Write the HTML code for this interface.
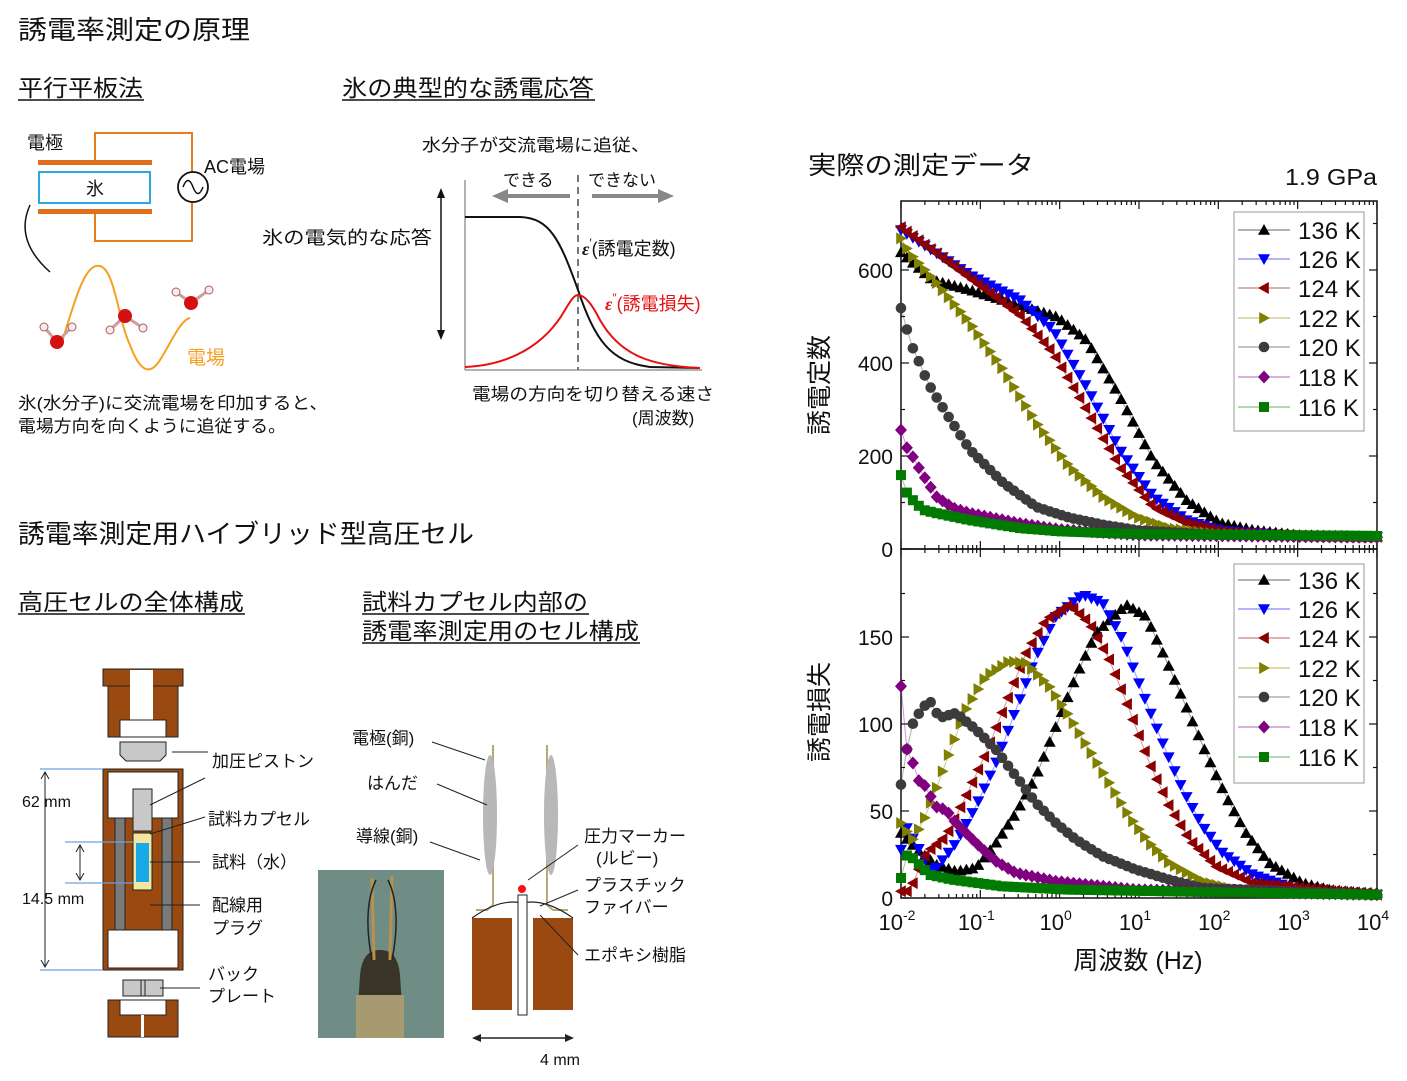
<!DOCTYPE html>
<html><head><meta charset="utf-8">
<style>
html,body{margin:0;padding:0;background:#fff;}
svg{display:block;}
text{font-family:"Liberation Sans","Noto Sans CJK JP",sans-serif;fill:#111;}
</style></head>
<body>
<svg id="s" width="1407" height="1081" viewBox="0 0 1407 1081" xmlns="http://www.w3.org/2000/svg">
<text x="18" y="39" font-size="26" textLength="232" lengthAdjust="spacingAndGlyphs">誘電率測定の原理</text>
<text x="18" y="96" font-size="23" textLength="125" lengthAdjust="spacingAndGlyphs">平行平板法</text>
<line x1="18" y1="100" x2="144" y2="100" stroke="#111" stroke-width="1.5"/>
<text x="342" y="96" font-size="23" textLength="252" lengthAdjust="spacingAndGlyphs">氷の典型的な誘電応答</text>
<line x1="342" y1="100" x2="595" y2="100" stroke="#111" stroke-width="1.5"/>

<text x="27" y="149" font-size="18">電極</text>
<polyline points="95,163 95,133 192,133 192,172" fill="none" stroke="#e87d1e" stroke-width="2"/>
<polyline points="192,202 192,241 95,241 95,211" fill="none" stroke="#e87d1e" stroke-width="2"/>
<rect x="38" y="160" width="114" height="5" fill="#e07020"/>
<rect x="38" y="209" width="114" height="5" fill="#e07020"/>
<rect x="39" y="172" width="111" height="31" fill="#fff" stroke="#29a8e0" stroke-width="2"/>
<text x="86" y="195" font-size="18">氷</text>
<circle cx="193" cy="187" r="15" fill="#fff" stroke="#111" stroke-width="1.8"/>
<path d="M183,187 Q188,174 193,187 T203,187" fill="none" stroke="#111" stroke-width="1.5"/>
<text x="204" y="173" font-size="18">AC電場</text>
<path d="M30,205 Q14,240 50,272" fill="none" stroke="#111" stroke-width="1.5"/>
<path d="M62,342 C75,300 85,262 100,266 C115,270 118,320 130,345 C140,372 150,376 160,360 C170,345 180,320 190,318" fill="none" stroke="#f5a020" stroke-width="2"/>
<g stroke="#c9a0a0" stroke-width="3">
<line x1="44" y1="327" x2="57" y2="342"/><line x1="72" y1="327" x2="57" y2="342"/>
<line x1="110" y1="330" x2="125" y2="316"/><line x1="143" y1="328" x2="125" y2="316"/>
<line x1="176" y1="292" x2="191" y2="303"/><line x1="209" y1="290" x2="191" y2="303"/>
</g>
<g>
<circle cx="44" cy="327" r="4" fill="#eee" stroke="#b55" stroke-width="1"/><circle cx="72" cy="327" r="4" fill="#eee" stroke="#b55" stroke-width="1"/>
<circle cx="57" cy="342" r="7" fill="#d51010"/>
<circle cx="110" cy="330" r="4" fill="#eee" stroke="#b55" stroke-width="1"/><circle cx="143" cy="328" r="4" fill="#eee" stroke="#b55" stroke-width="1"/>
<circle cx="125" cy="316" r="7" fill="#d51010"/>
<circle cx="176" cy="292" r="4" fill="#eee" stroke="#b55" stroke-width="1"/><circle cx="209" cy="290" r="4" fill="#eee" stroke="#b55" stroke-width="1"/>
<circle cx="191" cy="303" r="7" fill="#d51010"/>
</g>
<text x="187" y="364" font-size="19" style="fill:#f5a020">電場</text>
<text x="18" y="409" font-size="17" textLength="310" lengthAdjust="spacingAndGlyphs">氷(水分子)に交流電場を印加すると、</text>
<text x="18" y="432" font-size="17" textLength="268" lengthAdjust="spacingAndGlyphs">電場方向を向くように追従する。</text>

<text x="422" y="151" font-size="17" textLength="228" lengthAdjust="spacingAndGlyphs">水分子が交流電場に追従、</text>
<text x="503" y="186" font-size="17">できる</text>
<text x="588" y="186" font-size="17">できない</text>
<line x1="505" y1="196" x2="570" y2="196" stroke="#888" stroke-width="4"/>
<polygon points="492,196 508,189 508,203" fill="#888"/>
<line x1="592" y1="196" x2="660" y2="196" stroke="#888" stroke-width="4"/>
<polygon points="674,196 658,189 658,203" fill="#888"/>
<line x1="465" y1="180" x2="465" y2="370" stroke="#999" stroke-width="1.5"/>
<line x1="465" y1="370" x2="702" y2="370" stroke="#999" stroke-width="1.5"/>
<line x1="578" y1="175" x2="578" y2="370" stroke="#777" stroke-width="2" stroke-dasharray="7,5"/>
<path d="M465,217 L520,217 C550,218 560,240 578,290 C595,340 610,362 650,367 L700,368" fill="none" stroke="#111" stroke-width="2"/>
<path d="M465,367 C510,365 545,345 565,310 C572,298 575,295 578,295 C583,295 590,300 600,320 C620,355 650,366 700,368" fill="none" stroke="#e81010" stroke-width="2"/>
<line x1="441" y1="196" x2="441" y2="333" stroke="#111" stroke-width="1.5"/>
<polygon points="441,188 437,198 445,198" fill="#111"/>
<polygon points="441,340 437,330 445,330" fill="#111"/>
<text x="262" y="244" font-size="18" textLength="170" lengthAdjust="spacingAndGlyphs">氷の電気的な応答</text>
<text x="582" y="255" font-size="18"><tspan font-weight="bold" font-style="italic" font-family="Liberation Serif">ε</tspan><tspan dy="-8" font-size="12">′</tspan><tspan dy="8">(誘電定数)</tspan></text>
<text x="605" y="310" font-size="18" style="fill:#e81010"><tspan font-weight="bold" font-style="italic" font-family="Liberation Serif" style="fill:#e81010">ε</tspan><tspan dy="-8" font-size="12" style="fill:#e81010">″</tspan><tspan dy="8" style="fill:#e81010">(誘電損失)</tspan></text>
<text x="472" y="400" font-size="17" textLength="242" lengthAdjust="spacingAndGlyphs">電場の方向を切り替える速さ</text>
<text x="632" y="424" font-size="17">(周波数)</text>

<text x="18" y="543" font-size="26" textLength="456" lengthAdjust="spacingAndGlyphs">誘電率測定用ハイブリッド型高圧セル</text>
<text x="18" y="610" font-size="23" textLength="226" lengthAdjust="spacingAndGlyphs">高圧セルの全体構成</text>
<line x1="18" y1="614" x2="245" y2="614" stroke="#111" stroke-width="1.5"/>
<text x="362" y="610" font-size="23" textLength="226" lengthAdjust="spacingAndGlyphs">試料カプセル内部の</text>
<line x1="362" y1="614" x2="589" y2="614" stroke="#111" stroke-width="1.5"/>
<text x="362" y="639" font-size="23" textLength="277" lengthAdjust="spacingAndGlyphs">誘電率測定用のセル構成</text>
<line x1="362" y1="643" x2="640" y2="643" stroke="#111" stroke-width="1.5"/>

<g stroke="#222" stroke-width="1">
<rect x="103" y="669" width="80" height="17" fill="#9a4a10"/>
<rect x="108" y="686" width="70" height="51" fill="#9a4a10"/>
<rect x="130" y="670" width="23" height="50" fill="#fff" stroke="none"/>
<rect x="120" y="720" width="46" height="17" fill="#fff"/>
<path d="M120,742 H166 V755 L160,761 H126 L120,755 Z" fill="#c8c8c8"/>
<rect x="103" y="769" width="80" height="201" fill="#9a4a10"/>
<rect x="108" y="772" width="70" height="46" fill="#fff"/>
<rect x="115" y="818" width="57" height="112" fill="#7a7a7a"/>
<rect x="125" y="818" width="37" height="112" fill="#9a4a10"/>
<rect x="133" y="789" width="19" height="42" fill="#c8c8c8"/>
<rect x="133" y="833" width="19" height="57" fill="#f2e6a0"/>
<rect x="136" y="843" width="13" height="39" fill="#19a8e8" stroke="none"/>
<rect x="108" y="930" width="70" height="38" fill="#fff"/>
<rect x="123" y="980" width="40" height="16" fill="#c8c8c8"/>
<line x1="141" y1="980" x2="141" y2="996"/><line x1="145" y1="980" x2="145" y2="996"/>
<rect x="108" y="1000" width="70" height="37" fill="#9a4a10"/>
<rect x="120" y="1000" width="46" height="15" fill="#fff"/>
<rect x="141" y="1015" width="3" height="22" fill="#fff" stroke="none"/>
</g>
<g stroke="#6fa0d8" stroke-width="1.2">
<line x1="40" y1="769" x2="103" y2="769"/><line x1="40" y1="970" x2="103" y2="970"/>
<line x1="65" y1="842" x2="133" y2="842"/><line x1="65" y1="883" x2="133" y2="883"/>
</g>
<g stroke="#222" stroke-width="1" fill="none">
<line x1="45" y1="772" x2="45" y2="967"/><polyline points="41,779 45,772 49,779"/><polyline points="41,960 45,967 49,960"/>
<line x1="80" y1="845" x2="80" y2="880"/><polyline points="76,852 80,845 84,852"/><polyline points="76,873 80,880 84,873"/>
<line x1="172" y1="752" x2="208" y2="752"/>
<line x1="150" y1="805" x2="205" y2="778"/>
<line x1="150" y1="834" x2="205" y2="817"/>
<line x1="150" y1="862" x2="200" y2="862"/>
<line x1="150" y1="905" x2="200" y2="905"/>
<line x1="160" y1="988" x2="200" y2="988"/>
</g>
<text x="22" y="807" font-size="16">62 mm</text>
<text x="22" y="904" font-size="16">14.5 mm</text>
<text x="212" y="767" font-size="17">加圧ピストン</text>
<text x="208" y="825" font-size="17">試料カプセル</text>
<text x="212" y="868" font-size="17">試料（水）</text>
<text x="212" y="911" font-size="17">配線用</text>
<text x="212" y="934" font-size="17">プラグ</text>
<text x="208" y="980" font-size="17">バック</text>
<text x="208" y="1002" font-size="17">プレート</text>

<rect x="318" y="870" width="126" height="168" fill="#6f8d84"/>
<path d="M360,975 C362,955 370,950 380,950 C390,950 398,955 400,975 L404,1038 H356 Z" fill="#3a3528"/>
<path d="M356,995 H404 V1038 H356 Z" fill="#a89a70"/>
<path d="M372,878 L374,960 M392,876 L390,960" stroke="#b89050" stroke-width="3" fill="none"/>
<path d="M376,880 C366,900 366,930 372,960 M388,880 C398,900 398,930 392,960" stroke="#222" stroke-width="1.5" fill="none"/>

<g>
<path d="M493,745 V905 L487,910 H476" fill="none" stroke="#b8a878" stroke-width="2"/>
<path d="M547,745 V905 L553,910 H568" fill="none" stroke="#b8a878" stroke-width="2"/>
<ellipse cx="490" cy="815" rx="7" ry="60" fill="#b8b8b8"/>
<ellipse cx="551" cy="815" rx="7" ry="60" fill="#b8b8b8"/>
<rect x="472" y="918" width="40" height="92" fill="#9a4a10"/>
<rect x="533" y="918" width="40" height="92" fill="#9a4a10"/>
<path d="M472,918 Q500,898 522,903 Q545,898 573,918" fill="none" stroke="#222" stroke-width="1.2"/>
<rect x="518" y="895" width="9" height="120" fill="#fff" stroke="#222" stroke-width="1"/>
<circle cx="522" cy="889" r="4" fill="#ff1010"/>
</g>
<g stroke="#222" stroke-width="1">
<line x1="432" y1="742" x2="485" y2="760"/>
<line x1="437" y1="784" x2="487" y2="805"/>
<line x1="430" y1="842" x2="480" y2="860"/>
<line x1="578" y1="845" x2="528" y2="880"/>
<line x1="578" y1="890" x2="540" y2="906"/>
<line x1="578" y1="955" x2="540" y2="915"/>
<line x1="476" y1="1038" x2="570" y2="1038" stroke-width="1.5"/>
</g>
<polygon points="472,1038 481,1034 481,1042" fill="#222"/>
<polygon points="574,1038 565,1034 565,1042" fill="#222"/>
<text x="352" y="744" font-size="17">電極(銅)</text>
<text x="367" y="789" font-size="17">はんだ</text>
<text x="356" y="842" font-size="17">導線(銅)</text>
<text x="584" y="842" font-size="17">圧力マーカー</text>
<text x="596" y="864" font-size="17">(ルビー)</text>
<text x="584" y="891" font-size="17">プラスチック</text>
<text x="584" y="913" font-size="17">ファイバー</text>
<text x="584" y="961" font-size="17">エポキシ樹脂</text>
<text x="540" y="1065" font-size="16">4 mm</text>

<text x="808" y="174" font-size="25" textLength="226" lengthAdjust="spacingAndGlyphs">実際の測定データ</text>
<text x="1285" y="185" font-size="23" textLength="92" lengthAdjust="spacingAndGlyphs">1.9 GPa</text>
<text transform="translate(828,385) rotate(-90)" font-size="25" text-anchor="middle">誘電定数</text>
<text transform="translate(828,712) rotate(-90)" font-size="25" text-anchor="middle">誘電損失</text>
<text x="1138" y="969" font-size="25" text-anchor="middle">周波数 (Hz)</text>
<g id="chart"></g>
</svg>
<script>
(function(){
var g=document.getElementById('chart'),h='';
function X(l){return 901+(l+2)*79.33;}
function YT(v){return 549-v*93/200;}
function YB(v){return 898-v*261/150;}
function lgX(Xz){return -2+(Xz-95)/238;}
h+='<rect x="901" y="201" width="476" height="348" fill="none" stroke="#111" stroke-width="1.5"/>';
h+='<rect x="901" y="549" width="476" height="349" fill="none" stroke="#111" stroke-width="1.5"/>';
var edges=[[201,1],[549,-1],[549,1],[898,-1]];
for(var d=-2;d<=4;d++){
 for(var m=1;m<=9;m++){
  if(d==4&&m>1)break;
  var x=X(d+Math.log10(m)),L=m==1?8:4;
  edges.forEach(function(e){h+='<line x1="'+x+'" x2="'+x+'" y1="'+e[0]+'" y2="'+(e[0]+e[1]*L)+'" stroke="#111" stroke-width="1.2"/>';});
 }
}
function yt(y,L){h+='<line x1="901" x2="'+(901+L)+'" y1="'+y+'" y2="'+y+'" stroke="#111" stroke-width="1.2"/><line x1="1377" x2="'+(1377-L)+'" y1="'+y+'" y2="'+y+'" stroke="#111" stroke-width="1.2"/>';}
[0,200,400,600].forEach(function(v){yt(YT(v),8);h+='<text x="893" y="'+(YT(v)+8)+'" font-size="21" text-anchor="end">'+v+'</text>';});
[100,300,500,700].forEach(function(v){yt(YT(v),4);});
[0,50,100,150].forEach(function(v){yt(YB(v),8);h+='<text x="893" y="'+(YB(v)+8)+'" font-size="21" text-anchor="end">'+v+'</text>';});
[25,75,125,175].forEach(function(v){yt(YB(v),4);});
for(var d=-2;d<=4;d++){var x=X(d);h+='<text x="'+(x-4)+'" y="930" font-size="22" text-anchor="middle">10<tspan dy="-10" font-size="14">'+d+'</tspan></text>';}
function ip(p,l){if(l<=p[0][0])return p[0][1];for(var i=1;i<p.length;i++){if(l<=p[i][0]){var a=p[i-1],b=p[i];return a[1]+(b[1]-a[1])*(l-a[0])/(b[0]-a[0]);}}return p[p.length-1][1];}
var T={
b:[[-2,638],[-1.6,578],[-1.13,557],[-0.03,499],[0.34,449],[0.76,327],[1.18,191],[1.6,105],[2.02,56],[2.44,41],[3,30],[4,27]],
u:[[-2,686],[-1.13,589],[-0.5,535],[-0.08,471],[0.34,348],[0.76,213],[1.18,112],[1.6,62],[2.02,40],[3,28],[4,26]],
r:[[-2,692],[-1.13,583],[-0.5,503],[-0.08,421],[0.34,299],[0.76,176],[1.18,90],[1.6,56],[2.02,38],[3,28],[4,26]],
o:[[-2,668],[-1.89,636],[-1.55,572],[-1.13,486],[-0.71,385],[-0.29,271],[0.13,176],[0.55,112],[0.97,69],[1.39,45],[2,32],[4,26]],
k:[[-2,518],[-1.93,475],[-1.87,439],[-1.78,406],[-1.66,357],[-1.43,292],[-1.13,213],[-0.71,142],[-0.29,90],[0.13,67],[0.55,52],[1,40],[2,30],[4,26]],
p:[[-2,256],[-1.93,219],[-1.85,198],[-1.76,170],[-1.55,112],[-1.34,88],[-1.13,77],[-0.5,55],[0,42],[1,30],[4,25]],
g:[[-2,159],[-1.97,131],[-1.85,105],[-1.72,84],[-1.55,77],[-1.13,62],[-0.5,45],[0,38],[1,32],[4,28]]};
function cv(a){return a.map(function(q){return [lgX(q[0]),(1045-q[1])*0.1916];});}
var B={
b:cv([[95,850],[150,905],[200,945],[260,965],[320,955],[380,880],[440,790],[500,680],[560,530],[620,380],[680,250],[770,165],[830,200],[890,330],[950,470],[1010,610],[1070,740],[1130,850],[1200,940],[1300,1000],[1400,1025],[1520,1030]]),
u:cv([[95,900],[110,830],[190,970],[260,880],[320,770],[380,640],[440,480],[500,320],[560,200],[640,135],[700,160],[760,270],[820,430],[880,580],[940,720],[1000,830],[1060,910],[1150,975],[1300,1025],[1520,1035]]),
r:cv([[120,1025],[170,910],[230,860],[290,740],[350,610],[410,460],[470,310],[530,210],[600,165],[660,220],[720,330],[780,480],[840,640],[900,770],[960,870],[1040,950],[1150,1000],[1520,1035]]),
o:cv([[95,820],[130,870],[160,820],[200,720],[240,610],[290,480],[350,380],[420,335],[470,340],[540,410],[600,500],[660,600],[720,700],[780,800],[840,880],[900,940],[1000,995],[1100,1020],[1520,1035]]),
k:cv([[100,705],[120,540],[150,490],[180,450],[210,505],[260,490],[320,540],[380,600],[440,680],[500,760],[560,820],[620,870],[700,920],[800,960],[900,990],[1000,1015],[1520,1035]]),
p:cv([[95,410],[105,585],[125,620],[145,690],[175,715],[195,770],[230,780],[260,820],[320,880],[380,935],[440,970],[560,995],[800,1020],[1520,1035]]),
g:cv([[95,985],[100,915],[125,920],[150,945],[180,975],[250,990],[400,1010],[600,1020],[1520,1035]])};
var S=[['b','#000','tu'],['u','#0000ff','td'],['r','#8b0000','tl'],['o','#808000','tr'],['k','#3c3c3c','c'],['p','#800080','d'],['g','#007a00','s']];
function mk(t,x,y,c){var s=6;x=+x.toFixed(1);y=+y.toFixed(1);
 if(t=='tu')return '<polygon points="'+x+','+(y-s)+' '+(x+s)+','+(y+s*0.8)+' '+(x-s)+','+(y+s*0.8)+'" fill="'+c+'"/>';
 if(t=='td')return '<polygon points="'+x+','+(y+s)+' '+(x+s)+','+(y-s*0.8)+' '+(x-s)+','+(y-s*0.8)+'" fill="'+c+'"/>';
 if(t=='tl')return '<polygon points="'+(x-s)+','+y+' '+(x+s*0.8)+','+(y-s)+' '+(x+s*0.8)+','+(y+s)+'" fill="'+c+'"/>';
 if(t=='tr')return '<polygon points="'+(x+s)+','+y+' '+(x-s*0.8)+','+(y-s)+' '+(x-s*0.8)+','+(y+s)+'" fill="'+c+'"/>';
 if(t=='c')return '<circle cx="'+x+'" cy="'+y+'" r="5.3" fill="'+c+'"/>';
 if(t=='d')return '<polygon points="'+x+','+(y-6.5)+' '+(x+6)+','+y+' '+x+','+(y+6.5)+' '+(x-6)+','+y+'" fill="'+c+'"/>';
 return '<rect x="'+(x-5)+'" y="'+(y-5)+'" width="10" height="10" fill="'+c+'"/>';}
h+='<defs><clipPath id="cp"><rect x="895" y="195" width="488" height="709"/></clipPath></defs><g clip-path="url(#cp)">';
var N=80;
S.forEach(function(sr){
 var k=sr[0],c=sr[1],t=sr[2],pt='',pb='',mt='',mb='';
 for(var i=0;i<=N;i++){var l=-2+i*6/N,x=X(l),yt=YT(ip(T[k],l)),yb=YB(ip(B[k],l));
  pt+=x.toFixed(1)+','+yt.toFixed(1)+' ';pb+=x.toFixed(1)+','+yb.toFixed(1)+' ';
  mt+=mk(t,x,yt,c);mb+=mk(t,x,yb,c);}
 h+='<polyline points="'+pt+'" fill="none" stroke="'+c+'" stroke-opacity="0.4" stroke-width="1"/>'+mt;
 h+='<polyline points="'+pb+'" fill="none" stroke="'+c+'" stroke-opacity="0.4" stroke-width="1"/>'+mb;
});
h+='</g>';
var labs=['136 K','126 K','124 K','122 K','120 K','118 K','116 K'];
function leg(y0,rows){
 h+='<rect x="1234" y="'+y0+'" width="130" height="'+(rows[6]-rows[0]+42)+'" fill="#fff" stroke="#999" stroke-width="1"/>';
 S.forEach(function(sr,i){var y=rows[i];
  h+='<line x1="1238" x2="1290" y1="'+y+'" y2="'+y+'" stroke="'+sr[1]+'" stroke-opacity="0.6" stroke-width="1"/>'+mk(sr[2],1264,y,sr[1]);
  h+='<text x="1298" y="'+(y+9)+'" font-size="24">'+labs[i]+'</text>';});
}
leg(212,[230,259,288,318,347,377,407]);
leg(564,[580,609,638,668,697,727,757]);
g.innerHTML=h;
})();
</script>
</body></html>
